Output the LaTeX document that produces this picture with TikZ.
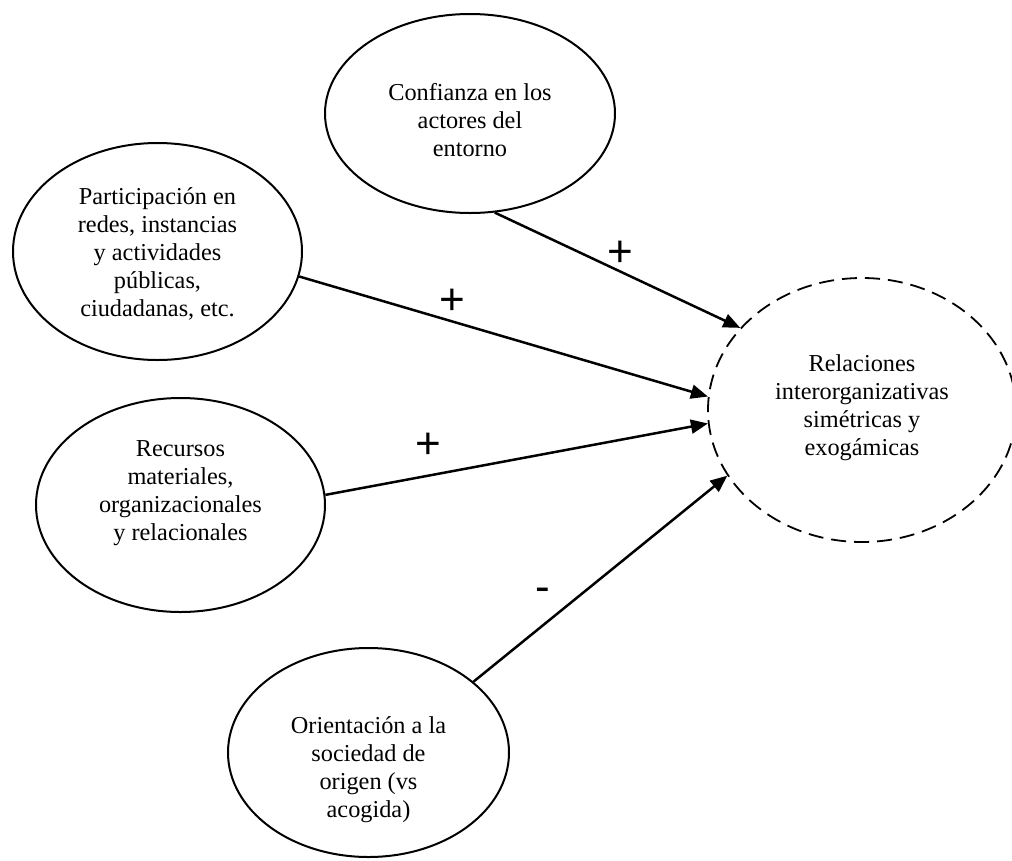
\documentclass[tikz,border=0pt]{standalone}
\usepackage{fontspec}
\setmainfont{Liberation Serif}
\newfontfamily\signfont{Liberation Sans}
\usetikzlibrary{shapes.geometric,arrows.meta}
\begin{document}
\begin{tikzpicture}[x=1pt,y=-1pt,
  factor/.style={ellipse,draw,line width=2pt,inner sep=0pt},
  outcome/.style={ellipse,draw,line width=1.8pt,dash pattern=on 15pt off 8pt,inner sep=0pt},
  caption/.style={align=center,font=\fontsize{24.3}{28}\selectfont,inner sep=0pt},
  sign/.style={font=\signfont\fontsize{44}{48}\selectfont,inner sep=0pt},
  link/.style={line width=2.5pt,-{Triangle[length=17pt,width=14pt]}}]
\useasboundingbox (0,0) rectangle (1012,860);
\fill[white] (0,0) rectangle (1012,860);

% explanatory factors
\node[factor,minimum width=290pt,minimum height=199pt] (conf) at (470,113.5) {};
\node[factor,minimum width=289pt,minimum height=217pt] (part) at (157.5,251.5) {};
\node[factor,minimum width=289pt,minimum height=214pt] (recu) at (180.5,505) {};
\node[factor,minimum width=281pt,minimum height=209pt] (orie) at (368.5,752.5) {};
% outcome
\node[outcome,minimum width=308pt,minimum height=264pt] (rel) at (862,410) {};

% texts
\node[caption] (conf-t) at (470,120) {Confianza en los\\actores del\\entorno};
\node[caption] (part-t) at (157.5,254) {Participación en\\redes, instancias\\y actividades\\públicas,\\ciudadanas, etc.};
\node[caption] (recu-t) at (180.5,493) {Recursos\\materiales,\\organizacionales\\y relacionales};
\node[caption] (orie-t) at (368.5,770) {Orientación a la\\sociedad de\\origen (vs\\acogida)};
\node[caption] (rel-t) at (862,408) {Relaciones\\interorganizativas\\simétricas y\\exogámicas};

% effects
\draw[link] (conf.-76.5) -- (rel.146.8);
\draw[link] (part.-10.4) -- (rel.175.2);
\draw[link] (recu.4.7) -- (rel.-175.5);
\draw[link] (orie.34) -- (rel.-154.5);

% signs of the effects
\node[sign] (s-conf) at (620,254) {+};
\node[sign] (s-part) at (452,302) {+};
\node[sign] (s-recu) at (428,446) {+};
\node[sign] (s-orie) at (543,595) {-};
\end{tikzpicture}
\end{document}
